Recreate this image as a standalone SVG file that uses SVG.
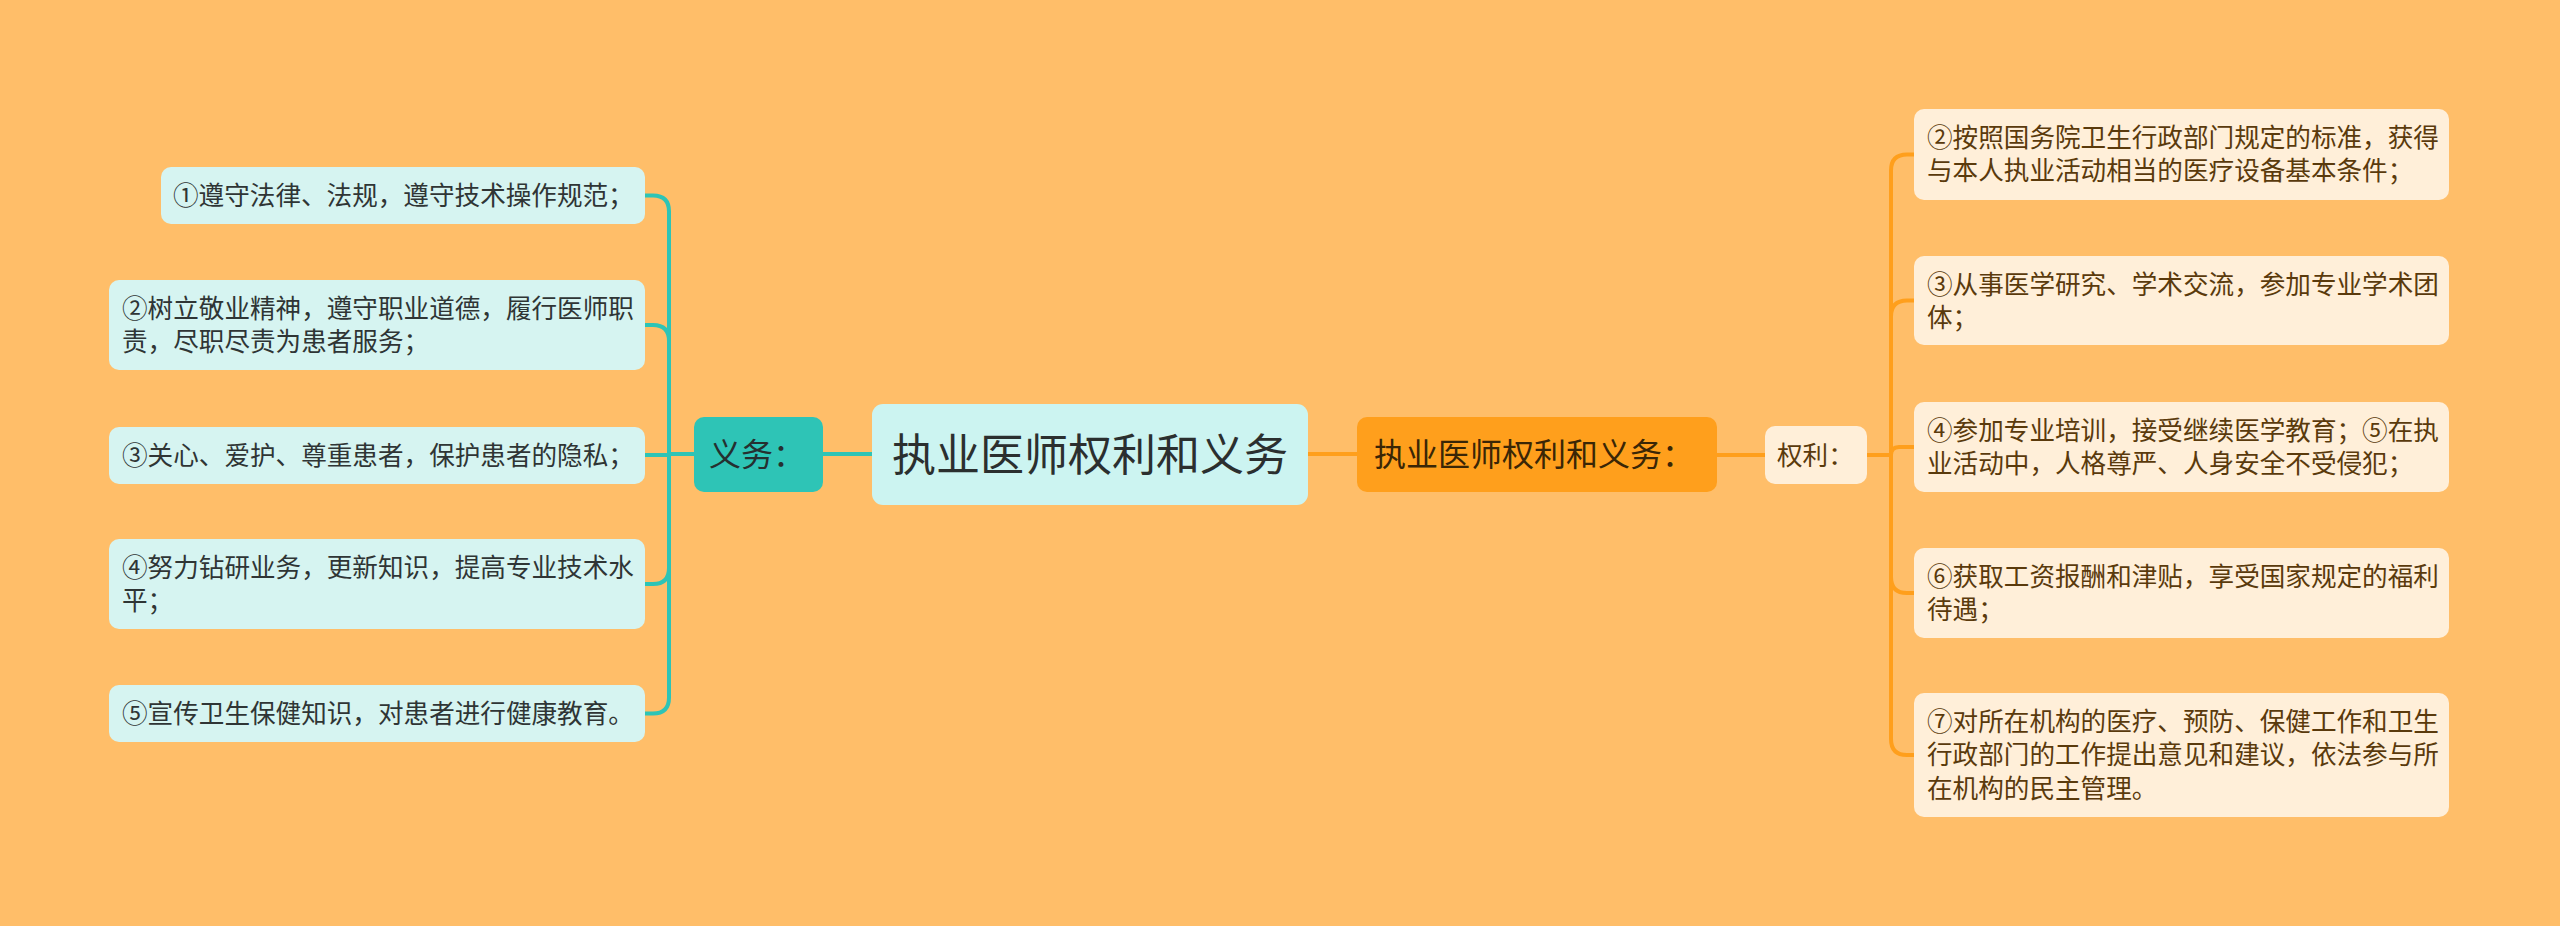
<svg xmlns="http://www.w3.org/2000/svg" width="2560" height="926" viewBox="0 0 2560 926">
<style>
text{font-family:"Noto Sans CJK SC","Noto Sans",sans-serif;}
.leafL rect{fill:#D6F4F1;}
.leafL text{fill:#2F3535;font-size:25.6px;}
.leafR rect{fill:#FFEFD9;}
.leafR text{fill:#5A3A0C;font-size:25.6px;}
.cT{stroke:#2EC4B6;stroke-width:4;fill:none;}
.cO{stroke:#FF9F1C;stroke-width:4;fill:none;}
</style>
<rect x="0" y="0" width="2560" height="926" fill="#FFBE69"/>
<g id="connectors">
<path class="cT" d="M872,454 H823"/>
<path class="cT" d="M694,454 H669"/>
<path class="cT" d="M669,454 V211.5 Q669,195.5 653,195.5 H645"/>
<path class="cT" d="M669,454 V341 Q669,325 653,325 H645"/>
<path class="cT" d="M669,454 V455 H645"/>
<path class="cT" d="M669,454 V568 Q669,584 653,584 H645"/>
<path class="cT" d="M669,454 V697.5 Q669,713.5 653,713.5 H645"/>
<path class="cO" d="M1308,454 H1357"/>
<path class="cO" d="M1717,455 H1765"/>
<path class="cO" d="M1867,455 H1891"/>
<path class="cO" d="M1891,455 V170.5 Q1891,154.5 1907,154.5 H1914"/>
<path class="cO" d="M1891,455 V316.5 Q1891,300.5 1907,300.5 H1914"/>
<path class="cO" d="M1891,455 Q1891,447 1899,447 H1914"/>
<path class="cO" d="M1891,455 V577 Q1891,593 1907,593 H1914"/>
<path class="cO" d="M1891,455 V739 Q1891,755 1907,755 H1914"/>
</g>
<g id="center">
<rect x="872" y="404" width="436" height="101" rx="11" fill="#CCF4F1"/>
<text x="1090" y="471" font-size="44" fill="#2B2F2F" text-anchor="middle">执业医师权利和义务</text>
</g>
<g id="yiwu">
<rect x="694" y="417" width="129" height="75" rx="10" fill="#2EC4B6"/>
<text x="709" y="466" font-size="32" fill="#253030">义务：</text>
</g>
<g id="main-right">
<rect x="1357" y="417" width="360" height="75" rx="10" fill="#FF9F1C"/>
<text x="1374" y="466" font-size="32" fill="#3A2606">执业医师权利和义务：</text>
</g>
<g id="quanli" class="leafR">
<rect x="1765" y="426" width="102" height="58" rx="10"/>
<text x="1777" y="465">权利：</text>
</g>
<g id="L1" class="leafL">
<rect x="161" y="167" width="484" height="57" rx="10"/>
<text x="173" y="205">①遵守法律、法规，遵守技术操作规范；</text>
</g>
<g id="L2" class="leafL">
<rect x="109" y="280" width="536" height="90" rx="10"/>
<text x="122" y="318">②树立敬业精神，遵守职业道德，履行医师职</text>
<text x="122" y="351.3">责，尽职尽责为患者服务；</text>
</g>
<g id="L3" class="leafL">
<rect x="109" y="427" width="536" height="57" rx="10"/>
<text x="122" y="465">③关心、爱护、尊重患者，保护患者的隐私；</text>
</g>
<g id="L4" class="leafL">
<rect x="109" y="539" width="536" height="90" rx="10"/>
<text x="122" y="577">④努力钻研业务，更新知识，提高专业技术水</text>
<text x="122" y="610.3">平；</text>
</g>
<g id="L5" class="leafL">
<rect x="109" y="685" width="536" height="57" rx="10"/>
<text x="122" y="723">⑤宣传卫生保健知识，对患者进行健康教育。</text>
</g>
<g id="R2" class="leafR">
<rect x="1914" y="109" width="535" height="91" rx="10"/>
<text x="1927" y="147">②按照国务院卫生行政部门规定的标准，获得</text>
<text x="1927" y="180.3">与本人执业活动相当的医疗设备基本条件；</text>
</g>
<g id="R3" class="leafR">
<rect x="1914" y="256" width="535" height="89" rx="10"/>
<text x="1927" y="294">③从事医学研究、学术交流，参加专业学术团</text>
<text x="1927" y="327.3">体；</text>
</g>
<g id="R4" class="leafR">
<rect x="1914" y="402" width="535" height="90" rx="10"/>
<text x="1927" y="440">④参加专业培训，接受继续医学教育；⑤在执</text>
<text x="1927" y="473.3">业活动中，人格尊严、人身安全不受侵犯；</text>
</g>
<g id="R6" class="leafR">
<rect x="1914" y="548" width="535" height="90" rx="10"/>
<text x="1927" y="586">⑥获取工资报酬和津贴，享受国家规定的福利</text>
<text x="1927" y="619.3">待遇；</text>
</g>
<g id="R7" class="leafR">
<rect x="1914" y="693" width="535" height="124" rx="10"/>
<text x="1927" y="731">⑦对所在机构的医疗、预防、保健工作和卫生</text>
<text x="1927" y="764.3">行政部门的工作提出意见和建议，依法参与所</text>
<text x="1927" y="797.6">在机构的民主管理。</text>
</g>
</svg>
